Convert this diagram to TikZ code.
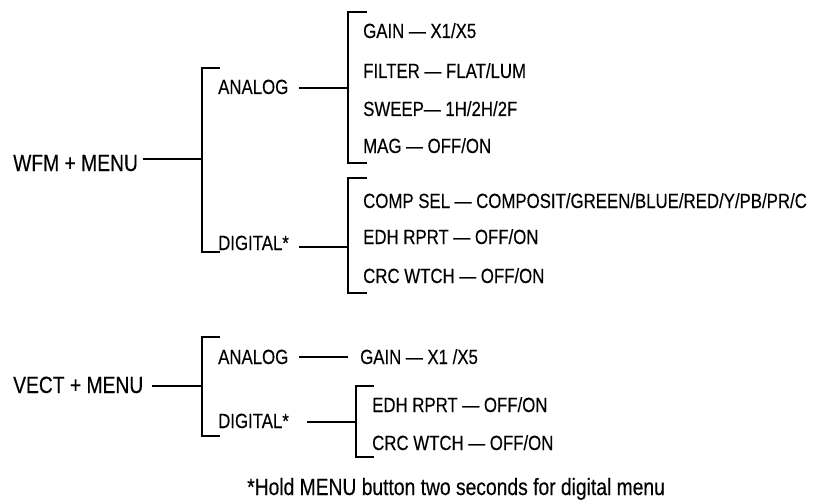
\documentclass[tikz,border=0pt]{standalone}
\usepackage{fontspec}
\setmainfont[FakeStretch=0.82,FakeBold=0.3]{Liberation Sans}
\begin{document}
\begin{tikzpicture}[x=1pt,y=-1pt,
  lbl/.style={anchor=base west,inner sep=0pt,font=\fontsize{20.5}{20.5}\selectfont},
  big/.style={anchor=base west,inner sep=0pt,font=\fontsize{23.5}{23.5}\selectfont},
  conn/.style={line width=1.1pt,black}]
\useasboundingbox (0,0) rectangle (829,500);
% ---------- WFM ----------
\node[big] (wfm) at (13,171) {WFM + MENU};
\node[lbl] (wan) at (218,94) {ANALOG};
\node[lbl] (wdi) at (218,250) {DIGITAL*};
\node[lbl] (gain) at (363,38) {GAIN — X1/X5};
\node[lbl] (filt) at (363,78) {FILTER — FLAT/LUM};
\node[lbl] (swp) at (363,116) {SWEEP— 1H/2H/2F};
\node[lbl] (mag) at (363,153) {MAG — OFF/ON};
\node[lbl] (comp) at (363,208) {COMP SEL — COMPOSIT/GREEN/BLUE/RED/Y/PB/PR/C};
\node[lbl] (edh) at (363,244) {EDH RPRT — OFF/ON};
\node[lbl] (crc) at (363,283) {CRC WTCH — OFF/ON};
\coordinate (w0) at (143,159);
\coordinate (b1m) at (202,159);
\coordinate (b1t) at (202,68);
\coordinate (b1b) at (202,252);
\coordinate (a0) at (299,88);
\coordinate (b2m) at (348,88);
\coordinate (b2t) at (348,12);
\coordinate (b2b) at (348,163);
\coordinate (d0) at (299,247);
\coordinate (b3m) at (348,247);
\coordinate (b3t) at (348,178);
\coordinate (b3b) at (348,293);
\draw[conn] (w0) -- (b1m);
\draw[conn] (b1t) ++(18,0) -- (b1t) -- (b1b) -- ++(18,0);
\draw[conn] (a0) -- (b2m);
\draw[conn] (b2t) ++(19,0) -- (b2t) -- (b2b) -- ++(19,0);
\draw[conn] (d0) -- (b3m);
\draw[conn] (b3t) ++(19,0) -- (b3t) -- (b3b) -- ++(19,0);
% ---------- VECT ----------
\node[big] (vect) at (13,393) {VECT + MENU};
\node[lbl] (van) at (218,364) {ANALOG};
\node[lbl] (vdi) at (218,428) {DIGITAL*};
\node[lbl] (vgain) at (360,364) {GAIN — X1 /X5};
\node[lbl] (vedh) at (372,412) {EDH RPRT — OFF/ON};
\node[lbl] (vcrc) at (372,450) {CRC WTCH — OFF/ON};
\coordinate (v0) at (152,386);
\coordinate (b4m) at (202,386);
\coordinate (b4t) at (202,337);
\coordinate (b4b) at (202,436);
\coordinate (va0) at (299,357);
\coordinate (va1) at (348,357);
\coordinate (vd0) at (307,422);
\coordinate (b5m) at (356,422);
\coordinate (b5t) at (356,386);
\coordinate (b5b) at (356,457);
\draw[conn] (v0) -- (b4m);
\draw[conn] (b4t) ++(18,0) -- (b4t) -- (b4b) -- ++(18,0);
\draw[conn] (va0) -- (va1);
\draw[conn] (vd0) -- (b5m);
\draw[conn] (b5t) ++(18,0) -- (b5t) -- (b5b) -- ++(18,0);
% ---------- note ----------
\node[big] (note) at (247,495) {*Hold MENU button two seconds for digital menu};
\end{tikzpicture}
\end{document}
